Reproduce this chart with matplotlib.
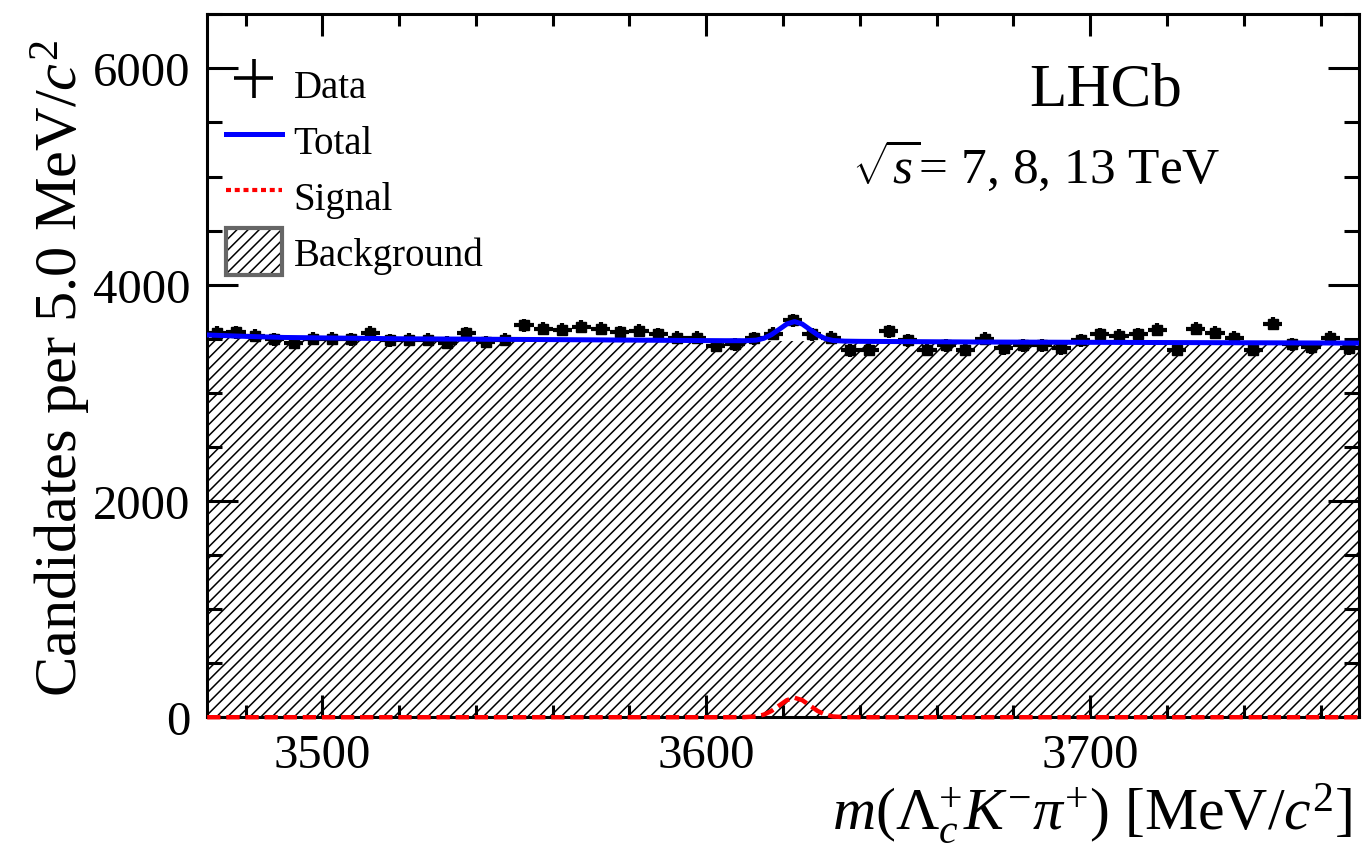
import numpy as np
import matplotlib
matplotlib.use("Agg")
import matplotlib.pyplot as plt
from matplotlib.patches import Patch
from matplotlib.lines import Line2D
from matplotlib.ticker import MultipleLocator

plt.rcParams['font.family'] = ['Liberation Serif', 'DejaVu Serif']
plt.rcParams['mathtext.fontset'] = 'custom'
plt.rcParams['mathtext.rm'] = 'Liberation Serif'
plt.rcParams['mathtext.it'] = 'Liberation Serif:italic'
plt.rcParams['mathtext.bf'] = 'Liberation Serif:bold'
plt.rcParams['hatch.linewidth'] = 1.1

# ── Data ─────────────────────────────────────────────────────────────────────
bin_width = 5.0
bin_centers = np.arange(3472.5, 3770, bin_width)      # 60 bins, 3470-3770
counts = [3555, 3560, 3530, 3494, 3463, 3500, 3500, 3494, 3555, 3485,
          3490, 3490, 3463, 3550, 3470, 3490, 3625, 3592, 3585, 3611,
          3592, 3560, 3574, 3540, 3509, 3509, 3432, 3447, 3505, 3546,
          3670, 3540, 3509, 3392, 3400, 3570, 3485, 3400, 3438, 3400,
          3500, 3410, 3438, 3438, 3410, 3485, 3540, 3530, 3540, 3585,
          3400, 3592, 3555, 3509, 3400, 3639, 3447, 3420, 3509, 3410]

# fit components
m_curve = [3470, 3480, 3490, 3520, 3570, 3600, 3605, 3610, 3613, 3615,
           3617, 3619, 3621, 3623, 3625, 3627, 3629, 3631, 3633, 3636,
           3640, 3670, 3720, 3770]
bkg_curve = [3535, 3522, 3512, 3500, 3490, 3483, 3482, 3481, 3480, 3480,
             3480, 3479, 3479, 3479, 3478, 3478, 3478, 3477, 3477, 3477,
             3476, 3470, 3465, 3460]
sig_curve = [0, 0, 0, 0, 0, 0, 0, 1, 7, 24,
             58, 108, 158, 180, 158, 108, 58, 24, 7, 1,
             0, 0, 0, 0]

total_curve = [b + s for b, s in zip(bkg_curve, sig_curve)]
errors = np.sqrt(counts)

# ── Plot ─────────────────────────────────────────────────────────────────────
fig = plt.figure(figsize=(13.63, 8.53), dpi=100)
ax = fig.add_axes([0.152, 0.158, 0.845, 0.824])

ax.fill_between(m_curve, 0, bkg_curve, facecolor='white', edgecolor='black',
                hatch='///', linewidth=0, zorder=1)
ax.plot(m_curve, sig_curve, color='red', lw=3.2, ls=(0, (3.0, 1.3)),
        clip_on=False, zorder=3)
ax.errorbar(bin_centers, counts, yerr=errors, xerr=bin_width / 2, fmt='s',
            color='black', ms=7.5, elinewidth=3.0, capsize=0, zorder=4)
ax.plot(m_curve, total_curve, color='#0000ff', lw=3.6, zorder=5)

ax.set_xlim(3470, 3770)
ax.set_ylim(0, 6500)

ax.xaxis.set_major_locator(MultipleLocator(100))
ax.xaxis.set_minor_locator(MultipleLocator(20))
ax.yaxis.set_major_locator(MultipleLocator(2000))
ax.yaxis.set_minor_locator(MultipleLocator(500))
ax.tick_params(which='both', direction='in', top=True, right=True, width=2.2,
               labelsize=35)
ax.tick_params(axis='x', which='major', length=16, pad=11)
ax.tick_params(axis='x', which='minor', length=8.5)
ax.tick_params(axis='y', which='major', length=22, pad=12)
ax.tick_params(axis='y', which='minor', length=11)
for sp in ax.spines.values():
    sp.set_linewidth(2.2)

ax.set_xlabel(r"$m(\mathit{\Lambda}_c^{+}K^{-}\pi^{+})$ [MeV/$c^2$]",
              fontsize=43, loc='right')
ax.xaxis.set_label_coords(0.994, -0.09)
ax.set_ylabel(r"Candidates per 5.0 MeV/$c^2$", fontsize=43.5, loc='top')
ax.yaxis.set_label_coords(-0.099, 0.965)

ax.text(0.78, 0.872, "LHCb", transform=ax.transAxes, fontsize=44,
        ha='center', va='baseline')
ax.text(0.56, 0.762, r"$\sqrt{s}$= 7, 8, 13 TeV", transform=ax.transAxes,
        fontsize=37, ha='left', va='baseline')

data_h = ax.errorbar([], [], yerr=[], xerr=[], fmt='none', color='black',
                     elinewidth=2.6)
handles = [
    data_h,
    Line2D([], [], color='#0000ff', lw=3.6),
    Line2D([], [], color='red', lw=3.0, ls=(0, (1.2, 0.9))),
    (Patch(facecolor='white', edgecolor='black', hatch='///', lw=0),
     Patch(facecolor='none', edgecolor='#666666', lw=3)),
]
leg = ax.legend(handles, ["Data", "Total", "Signal", "Background"],
                loc='upper left', bbox_to_anchor=(0.016, 0.935),
                borderaxespad=0, borderpad=0, frameon=False, fontsize=28,
                handlelength=1.45, handleheight=1.5, handletextpad=0.3,
                labelspacing=0.22)

fig.savefig("out.png", dpi=100)
